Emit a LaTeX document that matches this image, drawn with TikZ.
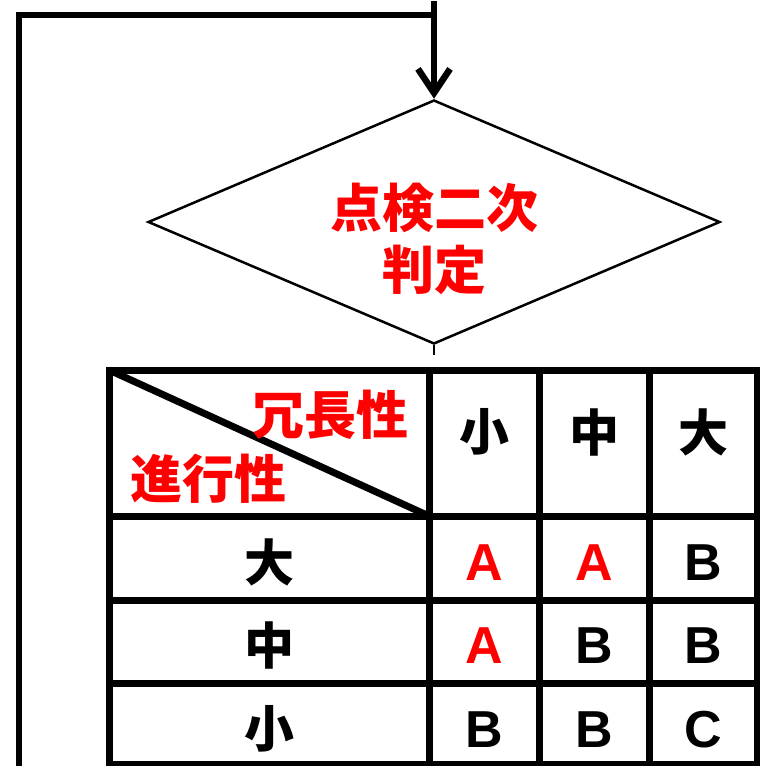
\documentclass[tikz,border=0pt]{standalone}
\usepackage{fontspec}
\setmainfont{Liberation Sans}
\newfontfamily\cjk{Noto Sans CJK JP}
\usetikzlibrary{arrows.meta,shapes.geometric}
\definecolor{hlred}{RGB}{255,0,0}
\begin{document}
\begin{tikzpicture}[x=1pt,y=-1pt,
  loopline/.style={line width=6.5pt,line join=miter},
  flowarrow/.style={line width=6.5pt,-{Straight Barb[length=24pt,width=32pt]}},
  decision/.style={draw,line width=2.5pt,diamond,aspect=2.34,inner sep=0pt,minimum width=572pt,minimum height=244pt},
  tbl/.style={line width=7pt,line join=miter},
  cjkred/.style={text=hlred,font=\cjk\bfseries\fontsize{52}{62}\selectfont,inner sep=0pt,align=center},
  cjkblack/.style={text=black,font=\cjk\bfseries\fontsize{50}{60}\selectfont,inner sep=0pt},
  gradeA/.style={text=hlred,font=\bfseries\fontsize{52}{60}\selectfont,inner sep=0pt},
  gradeB/.style={text=black,font=\bfseries\fontsize{52}{60}\selectfont,inner sep=0pt}]
\useasboundingbox (0,0) rectangle (760,766);

% decision diamond
\node[decision] (d) at (434,222) {};
\node[cjkred] (dtext) at (434,239) {点検二次\\判定};

% loop back connector
\coordinate (loopstart) at (19,775);
\coordinate (looptop) at (434,15);
\coordinate (arrowtop) at (434,1);
\draw[loopline] (loopstart) |- (looptop);
\draw[flowarrow] (arrowtop) -- (d.north);

% stub below diamond
\coordinate (stubend) at (434,355);
\draw[line width=2.5pt] (d.south) -- (stubend);

% table
\draw[tbl] (109,370) rectangle (757,764);
\draw[tbl] (109,516) -- (757,516);
\draw[tbl] (109,600) -- (757,600);
\draw[tbl] (109,683) -- (757,683);
\draw[tbl] (429,370) -- (429,764);
\draw[tbl] (539,370) -- (539,764);
\draw[tbl] (649,370) -- (649,764);
\draw[tbl] (109,370) -- (429,516);

% header labels
\node[cjkred] (redund) at (330,415) {冗長性};
\node[cjkred] (progr) at (208,479) {進行性};
\node[cjkblack] (hs) at (484,432) {小};
\node[cjkblack] (hm) at (594,432) {中};
\node[cjkblack] (hl) at (703,432) {大};

% row labels
\node[cjkblack] (rl) at (269,562) {大};
\node[cjkblack] (rm) at (269,645) {中};
\node[cjkblack] (rs) at (269,729) {小};

% grades
\node[gradeA] (g11) at (484,563) {A};
\node[gradeA] (g12) at (594,563) {A};
\node[gradeB] (g13) at (703,563) {B};
\node[gradeA] (g21) at (484,646) {A};
\node[gradeB] (g22) at (594,646) {B};
\node[gradeB] (g23) at (703,646) {B};
\node[gradeB] (g31) at (484,730) {B};
\node[gradeB] (g32) at (594,730) {B};
\node[gradeB] (g33) at (703,730) {C};
\end{tikzpicture}
\end{document}
